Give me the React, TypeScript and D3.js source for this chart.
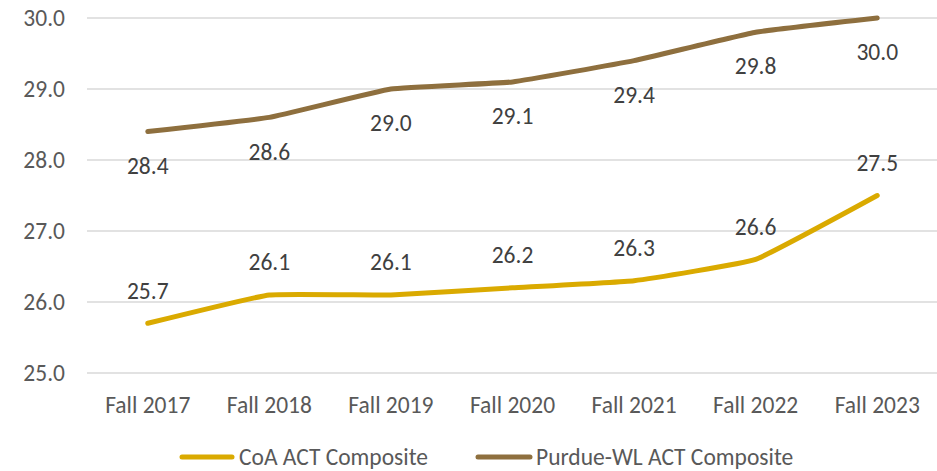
import React from 'react';
import * as d3 from 'd3';

const terms = ['Fall 2017', 'Fall 2018', 'Fall 2019', 'Fall 2020', 'Fall 2021', 'Fall 2022', 'Fall 2023'];
const coaAct = [25.7, 26.1, 26.1, 26.2, 26.3, 26.6, 27.5];
const purdueAct = [28.4, 28.6, 29.0, 29.1, 29.4, 29.8, 30.0];
const yTicks = [25, 26, 27, 28, 29, 30];

const seriesList = [
  { name: 'CoA ACT Composite', values: coaAct, color: '#DAAA00', labelPos: 'above' },
  { name: 'Purdue-WL ACT Composite', values: purdueAct, color: '#8E6F3E', labelPos: 'below' },
];

const W = 937;
const H = 471;
const FONT = 'Carlito, Lato, "Open Sans", sans-serif';
const FS = 23.5;

const App: React.FC = () => {
  const x = d3.scaleBand<string>().domain(terms).range([87, 938]);
  const y = d3.scaleLinear().domain([25, 30]).range([373, 18]);
  const cx = (i: number) => (x(terms[i]) as number) + x.bandwidth() / 2;
  const line = d3
    .line<number>()
    .x((_, i) => cx(i))
    .y(d => y(d))
    .curve(d3.curveCardinal.tension(0.7));

  return (
    <svg width={W} height={H} style={{ position: 'absolute', left: 0, top: 0, background: '#fff' }}>
      {/* gridlines */}
      {yTicks.map(t => (
        <g key={t}>
          <line x1={87} x2={W} y1={y(t)} y2={y(t)} stroke="#d9d9d9" strokeWidth={1.3} />
          <text
            x={65}
            y={y(t)}
            dy="0.35em"
            textAnchor="end"
            fill="#595959"
            fontFamily={FONT}
            fontSize={FS}
          >
            {t.toFixed(1)}
          </text>
        </g>
      ))}

      {/* category labels */}
      {terms.map((t, i) => (
        <text
          key={t}
          x={cx(i)}
          y={405}
          dy="0.35em"
          textAnchor="middle"
          fill="#595959"
          fontFamily={FONT}
          fontSize={FS}
        >
          {t}
        </text>
      ))}

      {/* series */}
      {seriesList.map(s => (
        <g key={s.name}>
          <path
            d={line(s.values) || ''}
            fill="none"
            stroke={s.color}
            strokeWidth={5}
            strokeLinecap="round"
            strokeLinejoin="round"
          />
          {s.values.map((v, i) => (
            <text
              key={i}
              x={cx(i)}
              y={y(v) + (s.labelPos === 'above' ? -33 : 34)}
              dy="0.35em"
              textAnchor="middle"
              fill="#404040"
              fontFamily={FONT}
              fontSize={FS}
            >
              {v.toFixed(1)}
            </text>
          ))}
        </g>
      ))}

      {/* legend */}
      <g>
        <line x1={182} x2={232} y1={457} y2={457} stroke="#DAAA00" strokeWidth={5} strokeLinecap="round" />
        <text x={239} y={457} dy="0.35em" fill="#595959" fontFamily={FONT} fontSize={FS}>
          CoA ACT Composite
        </text>
        <line x1={478} x2={530} y1={457} y2={457} stroke="#8E6F3E" strokeWidth={5} strokeLinecap="round" />
        <text x={536} y={457} dy="0.35em" fill="#595959" fontFamily={FONT} fontSize={FS}>
          Purdue-WL ACT Composite
        </text>
      </g>
    </svg>
  );
};

export default App;
